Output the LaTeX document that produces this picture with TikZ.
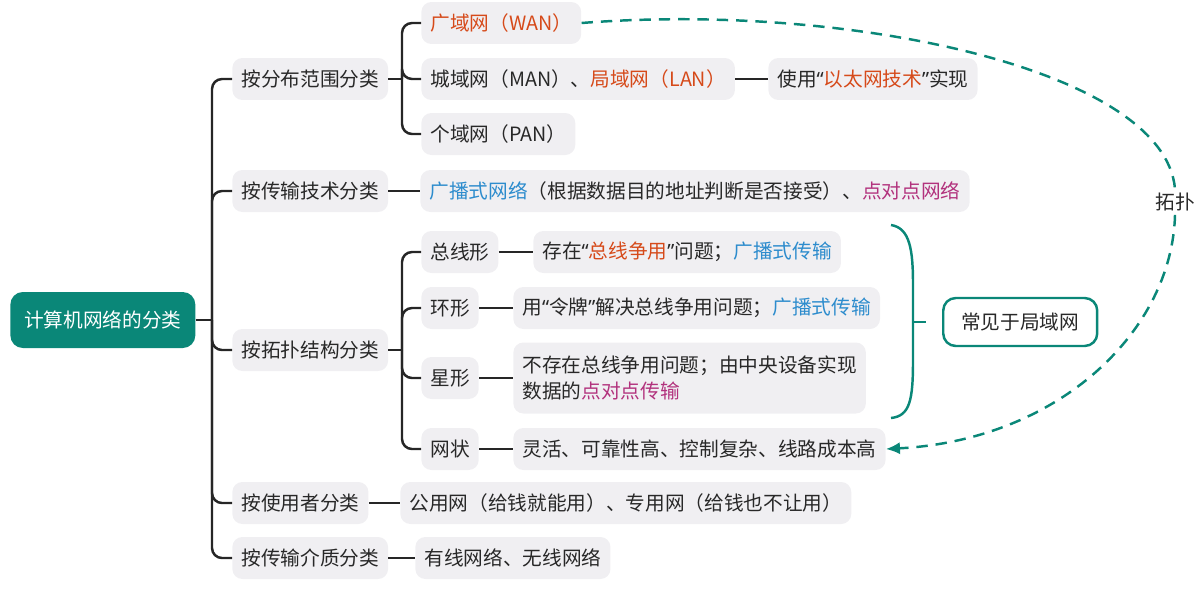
\documentclass[tikz,border=0pt]{standalone}
\usepackage{fontspec}
\setmainfont{Noto Sans CJK SC}
\newfontfamily\latinf{Noto Sans}
\usetikzlibrary{arrows.meta}
\definecolor{teal1}{RGB}{10,135,120}
\definecolor{boxg}{RGB}{240,239,242}
\definecolor{ora}{RGB}{214,74,26}
\definecolor{blu}{RGB}{45,140,205}
\definecolor{mag}{RGB}{178,50,125}
\definecolor{txt}{RGB}{40,40,40}
\newcommand\qo{{\latinf“}}
\newcommand\qc{{\latinf”}}
\begin{document}
\begin{tikzpicture}[x=0.02cm,y=-0.02cm,font=\fontsize{11.2}{15}\selectfont,
  box/.style={fill=boxg, rounded corners=0.2cm, minimum height=0.84cm, inner xsep=0.18cm, anchor=west, text=txt},
  rootbox/.style={fill=teal1, text=white, rounded corners=0.25cm, minimum height=1.12cm, minimum width=3.7cm, anchor=west},
  conn/.style={line width=1.4pt, black!85, rounded corners=0.2cm},
  tealline/.style={teal1, line width=1.4pt}]
\useasboundingbox (0,0) rectangle (1199,592);
% root and level 1
\node[rootbox] (root) at (10,320) {计算机网络的分类};
\node[box] (c1) at (232,79) {按分布范围分类};
\node[box] (c2) at (232,191) {按传输技术分类};
\node[box] (c3) at (232,350) {按拓扑结构分类};
\node[box] (c4) at (232,503) {按使用者分类};
\node[box] (c5) at (232,558) {按传输介质分类};
% level 2
\node[box] (wan) at (421,23) {\textcolor{ora}{广域网（WAN）}};
\node[box] (man) at (421,79) {城域网（MAN）、\textcolor{ora}{局域网（LAN）}};
\node[box] (pan) at (421,134) {个域网（PAN）};
\node[box] (eth) at (768,79) {使用\qo\textcolor{ora}{以太网技术}\qc 实现};
\node[box] (bc) at (420,191) {\textcolor{blu}{广播式网络}（根据数据目的地址判断是否接受）、\textcolor{mag}{点对点网络}};
\node[box] (bus) at (421,252) {总线形};
\node[box] (ring) at (421,308) {环形};
\node[box] (star) at (421,378) {星形};
\node[box] (mesh) at (421,449) {网状};
\node[box] (busd) at (533,252) {存在\qo\textcolor{ora}{总线争用}\qc 问题；\textcolor{blu}{广播式传输}};
\node[box] (ringd) at (513,308) {用\qo 令牌\qc 解决总线争用问题；\textcolor{blu}{广播式传输}};
\node[box, align=left, minimum height=1.42cm] (stard) at (513,378) {不存在总线争用问题；由中央设备实现\\数据的\textcolor{mag}{点对点传输}};
\node[box] (meshd) at (513,449) {灵活、可靠性高、控制复杂、线路成本高};
\node[box] (user) at (400,503) {公用网（给钱就能用）、专用网（给钱也不让用）};
\node[box] (med) at (415,558) {有线网络、无线网络};
% connectors
\coordinate (t0) at (212,320);
\draw[conn] (root.east) -- (t0);
\foreach \c in {c1,c2,c3,c4,c5} \draw[conn] (t0) |- (\c.west);
\coordinate (b1) at (402,79);
\draw[conn] (c1.east) -- (b1);
\foreach \c in {wan,man,pan} \draw[conn] (b1) |- (\c.west);
\draw[conn] (man.east) -- (eth.west);
\draw[conn] (c2.east) -- (bc.west);
\coordinate (b3) at (402,350);
\draw[conn] (c3.east) -- (b3);
\foreach \c in {bus,ring,star,mesh} \draw[conn] (b3) |- (\c.west);
\draw[conn] (bus.east) -- (busd.west);
\draw[conn] (ring.east) -- (ringd.west);
\draw[conn] (star.east) -- (stard.west);
\draw[conn] (mesh.east) -- (meshd.west);
\draw[conn] (c4.east) -- (user.west);
\draw[conn] (c5.east) -- (med.west);
% brace and LAN box
\draw[tealline] (891,225) .. controls (910,228) and (913,250) .. (913,285) -- (913,360) .. controls (913,400) and (910,416) .. (891,418);
\draw[tealline] (913,322) -- (926,322);
\node[draw=teal1, line width=1.4pt, fill=white, rounded corners=0.25cm, minimum width=3.08cm, minimum height=0.96cm, anchor=west, text=txt] (lan) at (942,322) {常见于局域网};
% topology dashed arc
\node[text=txt, inner sep=2pt] (tp) at (1175,202) {拓扑};
\draw[tealline, dash pattern=on 6.5pt off 4.5pt] (wan.east) .. controls (850,2) and (1165,70) .. (tp.north);
\draw[tealline, dash pattern=on 6.5pt off 4.5pt, -{Latex[length=8pt,width=7pt]}] (tp.south) .. controls (1172,330) and (1060,440) .. (meshd.east);
\end{tikzpicture}
\end{document}
